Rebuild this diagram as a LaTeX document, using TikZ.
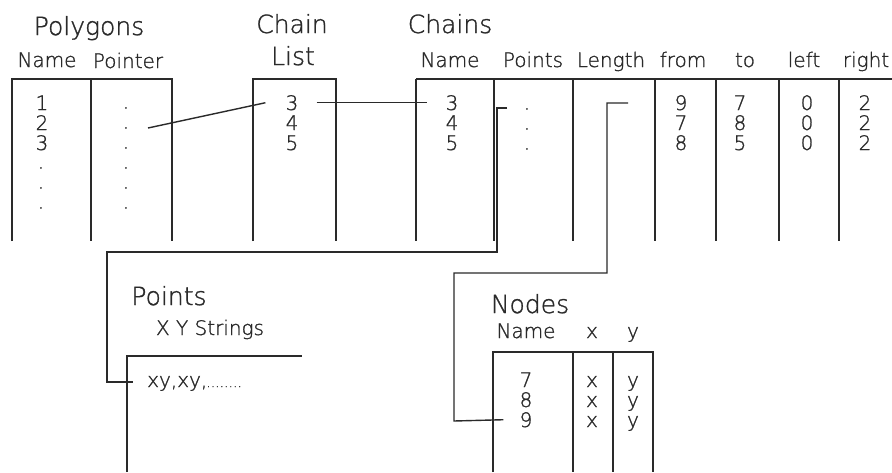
\documentclass[tikz,border=0pt]{standalone}
\usepackage{fontspec}
\newfontfamily\cadfont{DejaVu Sans ExtraLight}[RawFeature={embolden=1.2}]
\definecolor{ink}{HTML}{2A2A2A}
\tikzset{
  tbl/.style={line width=1.4pt, draw=ink},
  link/.style={line width=1.4pt, draw=ink},
  title/.style={font=\cadfont\fontsize{25}{25}\selectfont, text=ink, anchor=base, inner sep=0pt},
  head/.style={font=\cadfont\fontsize{20}{20}\selectfont, text=ink, anchor=base, inner sep=0pt},
  cell/.style={font=\cadfont\fontsize{20}{20}\selectfont, text=ink, anchor=base, inner sep=0pt},
}
\begin{document}
\begin{tikzpicture}[x=1pt,y=-1pt]
\useasboundingbox[fill=white] (0,0) rectangle (892,472);

% ---------------- Polygons
\node[title] (polyT) at (89,35) {Polygons};
\node[head] (polyH1) at (47,67) {Name};
\node[head] (polyH2) at (128,68) {Pointer};
\draw[tbl] (12,241) -- (12,79) -- (172,79) -- (172,241);
\draw[tbl] (91,79) -- (91,241);
\node[cell] (pn1) at (42,110) {1};
\node[cell] (pn2) at (42,130) {2};
\node[cell] (pn3) at (42,150) {3};
\node[cell] (pn4) at (41,168.5) {.};
\node[cell] (pn5) at (41,188.5) {.};
\node[cell] (pn6) at (41,208.5) {.};
\foreach \i/\y in {1/108.5,2/128.5,3/148.5,4/168.5,5/188.5,6/208.5}
  \node[cell] (pp\i) at (126,\y) {.};

% ---------------- Chain List
\node[title] (clT1) at (292,33) {Chain};
\node[title] (clT2) at (293,65) {List};
\draw[tbl] (253,241) -- (253,79) -- (336,79) -- (336,241);
\node[cell] (cl3) at (292,110) {3};
\node[cell] (cl4) at (292,130) {4};
\node[cell] (cl5) at (292,150) {5};

% ---------------- Chains
\node[title] (chT) at (450,33) {Chains};
\node[head] (chH1) at (450,67) {Name};
\node[head] (chH2) at (533,67) {Points};
\node[head] (chH3) at (611,67) {Length};
\node[head] (chH4) at (683,67) {from};
\node[head] (chH5) at (745,67) {to};
\node[head] (chH6) at (804,67) {left};
\node[head] (chH7) at (866,67) {right};
\draw[tbl] (416,79) -- (892,79);
\foreach \x in {416,494,573,655,716,779,839}
  \draw[tbl] (\x,79) -- (\x,241);
\node[cell] (ch3) at (452,110) {3};
\node[cell] (ch4) at (452,130) {4};
\node[cell] (ch5) at (452,150) {5};
\foreach \i/\y in {1/109.5,2/129.5,3/149.5}
  \node[cell] (chp\i) at (527,\y) {.};
\foreach \i/\f/\t/\l/\r in {1/9/7/0/2,2/7/8/0/2,3/8/5/0/2}{
  \pgfmathsetmacro{\yb}{90+20*\i}
  \node[cell] (chf\i) at (681,\yb) {\f};
  \node[cell] (cht\i) at (740,\yb) {\t};
  \node[cell] (chl\i) at (807,\yb) {\l};
  \node[cell] (chr\i) at (865,\yb) {\r};
}

% ---------------- Points
\node[title] (ptT) at (169,305) {Points};
\node[head] (ptH) at (210,335) {X Y Strings};
\draw[tbl] (127,472) -- (127,356) -- (302,356);
\node[head, anchor=base west] (xy) at (147,387) {xy,xy,\kern-1pt{\fontsize{14}{14}\selectfont ........}};

% ---------------- Nodes
\node[title] (ndT) at (530,313) {Nodes};
\node[head] (ndH1) at (526,338) {Name};
\node[head] (ndH2) at (592,338) {x};
\node[head] (ndH3) at (633,338) {y};
\draw[tbl] (493,472) -- (493,352) -- (653,352) -- (653,472);
\draw[tbl] (573,352) -- (573,472);
\draw[tbl] (613,352) -- (613,472);
\foreach \i/\n in {1/7,2/8,3/9}{
  \pgfmathsetmacro{\yb}{367+20*\i}
  \node[cell] (n\n) at (526,\yb) {\n};
  \node[cell] (nx\i) at (592,\yb) {x};
  \node[cell] (ny\i) at (633,\yb) {y};
}

% ---------------- links
\coordinate (ppLink) at (148,128);
\draw[link] (ppLink) -- ([xshift=-20pt]cl3.west);
\draw[link] ([xshift=18pt]cl3.east) -- ([xshift=-18pt]ch3.west);

\coordinate (ptsA) at (507,108);
\coordinate (ptsB) at (497,108);
\coordinate (ptsC) at (497,252);
\coordinate (ptsD) at (107,252);
\coordinate (ptsE) at (107,382);
\coordinate (ptsF) at (133,382);
\draw[link] (ptsA) -- (ptsB) -- (ptsC) -- (ptsD) -- (ptsE) -- (ptsF);

\coordinate (lenA) at (628,103);
\coordinate (lenB) at (607,103);
\coordinate (lenC) at (607,273);
\coordinate (lenD) at (454,273);
\coordinate (lenE) at (454,421);
\draw[link] (lenA) -- (lenB) -- (lenC) -- (lenD) -- (lenE) -- ([xshift=-16pt]n9.west);
\end{tikzpicture}
\end{document}
